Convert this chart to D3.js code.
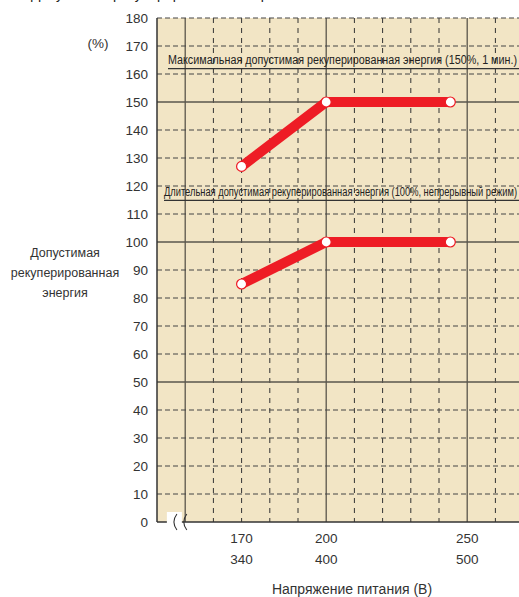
<!DOCTYPE html>
<html lang="ru">
<head>
<meta charset="utf-8">
<title>Допустимая рекуперированная энергия</title>
<script src="https://cdn.jsdelivr.net/npm/d3@7"></script>
<style>
  body { margin: 0; background: #fff; }
  svg { display: block; font-family: "Liberation Sans", Arial, sans-serif; }
  .tick-label { font-size: 13.5px; fill: #333; }
  .note { font-family: "Liberation Sans Narrow", "Liberation Sans", sans-serif; font-size: 12.5px; fill: #222; }
</style>
</head>
<body>
<svg></svg>
<script>
// data
var voltage200 = [170, 200, 244];
var maxEnergy = [127, 150, 150];     // макс. (150%, 1 мин.)
var contEnergy = [85, 100, 100];     // длительная (100%)
var xTicks = [170, 200, 250];
var xTicks400 = ["340", "400", "500"];
var yTicks = d3.range(0, 181, 10);
var noteMax = "Максимальная допустимая рекуперированная энергия (150%, 1 мин.)";
var noteCont = "Длительная допустимая рекуперированная энергия (100%, непрерывный режим)";

var width = 519, height = 597;
var svg = d3.select("svg").attr("width", width).attr("height", height);

var x = d3.scaleLinear().domain([140, 270]).range([157, 523.6]);
var y = d3.scaleLinear().domain([0, 180]).range([522, 18]);

// обрезанный заголовок сверху
svg.append("text")
  .attr("x", 160).attr("y", -1)
  .attr("text-anchor", "middle")
  .style("font-size", "14px").style("fill", "#222")
  .text("Допустимая рекуперированная энергия");

// фон графика
svg.append("rect")
  .attr("x", x(140)).attr("y", y(180))
  .attr("width", x(270) - x(140)).attr("height", y(0) - y(180))
  .attr("fill", "#f2e5c5");

var grid = svg.append("g");
// вертикальная сетка
grid.selectAll(".vg")
  .data(d3.range(150, 270, 10))
  .enter().append("line")
  .attr("x1", function(d){ return x(d); })
  .attr("x2", function(d){ return x(d); })
  .attr("y1", y(180)).attr("y2", y(0))
  .attr("stroke", function(d){ return d % 50 == 0 ? "#5a564c" : "#333"; })
  .attr("stroke-width", function(d){ return d % 50 == 0 ? 1.3 : 1; })
  .attr("stroke-dasharray", function(d){ return d % 50 == 0 ? null : "5,5"; });

// горизонтальная сетка
grid.selectAll(".hg")
  .data(yTicks.filter(function(d){ return d > 0; }))
  .enter().append("line")
  .attr("x1", x(140)).attr("x2", x(270))
  .attr("y1", function(d){ return y(d); })
  .attr("y2", function(d){ return y(d); })
  .attr("stroke", function(d){ return d % 50 == 0 && d < 180 ? "#5a564c" : "#444"; })
  .attr("stroke-width", function(d){ return d % 50 == 0 && d < 180 ? 1.3 : 1; })
  .attr("stroke-dasharray", function(d){ return d % 50 == 0 && d < 180 ? null : "5,3"; });

// оси
svg.append("line")
  .attr("x1", x(140)).attr("x2", x(140))
  .attr("y1", y(180)).attr("y2", y(0))
  .attr("stroke", "#333").attr("stroke-width", 1.5);
svg.append("line")
  .attr("x1", x(140)).attr("x2", x(270))
  .attr("y1", y(0)).attr("y2", y(0))
  .attr("stroke", "#333").attr("stroke-width", 1.5);

// разрыв оси "(("
var br = svg.append("g");
br.append("rect")
  .attr("x", x(143.5)).attr("y", y(0) - 10)
  .attr("width", 15).attr("height", 16)
  .attr("fill", "#fff");
[146, 149.5].forEach(function(v){
  br.append("path")
    .attr("d", "M" + (x(v) + 3) + "," + (y(0) - 8) + " Q" + (x(v) - 3) + "," + y(0) + " " + (x(v) + 3) + "," + (y(0) + 8))
    .attr("fill", "none").attr("stroke", "#333").attr("stroke-width", 1.1);
});

// подписи
function note(txt, val, tx, len) {
  svg.append("text").attr("class", "note")
    .attr("x", tx).attr("y", y(val))
    .attr("textLength", len).attr("lengthAdjust", "spacingAndGlyphs")
    .text(txt);
  svg.append("line")
    .attr("x1", tx).attr("x2", width)
    .attr("y1", y(val) + 4.5).attr("y2", y(val) + 4.5)
    .attr("stroke", "#333").attr("stroke-width", 1.2);
}
note(noteMax, 163.5, 168, 349);
note(noteCont, 116.5, 164, 353);

// линии данных
var line = d3.line()
  .x(function(d){ return x(d[0]); })
  .y(function(d){ return y(d[1]); });

[maxEnergy, contEnergy].forEach(function(series){
  var pts = voltage200.map(function(v, i){ return [v, series[i]]; });
  svg.append("path")
    .datum(pts)
    .attr("d", line)
    .attr("fill", "none")
    .attr("stroke", "#ee1c25")
    .attr("stroke-width", 10)
    .attr("stroke-linecap", "round")
    .attr("stroke-linejoin", "round");
  svg.selectAll(null)
    .data(pts)
    .enter().append("circle")
    .attr("cx", function(d){ return x(d[0]); })
    .attr("cy", function(d){ return y(d[1]); })
    .attr("r", 5)
    .attr("fill", "#fff")
    .attr("stroke", "#ee1c25")
    .attr("stroke-width", 1.2);
});

// подписи оси Y
svg.selectAll(".ylab")
  .data(yTicks)
  .enter().append("text")
  .attr("class", "tick-label")
  .attr("x", 148).attr("y", function(d){ return y(d); })
  .attr("dy", "0.35em")
  .attr("text-anchor", "end")
  .text(function(d){ return d; });

svg.append("text").attr("class", "tick-label")
  .attr("x", 98).attr("y", y(171)).attr("dy", "0.35em")
  .attr("text-anchor", "middle")
  .text("(%)");

// подписи оси X, два ряда (класс 200 В / 400 В)
xTicks.forEach(function(d, i){
  svg.append("text").attr("class", "tick-label")
    .attr("x", x(d)).attr("y", 543)
    .attr("text-anchor", "middle").text(d);
  svg.append("text").attr("class", "tick-label")
    .attr("x", x(d)).attr("y", 564)
    .attr("text-anchor", "middle").text(xTicks400[i]);
});

svg.append("text")
  .attr("x", 352).attr("y", 594)
  .attr("text-anchor", "middle")
  .style("font-size", "14px").style("fill", "#333")
  .text("Напряжение питания (В)");

// заголовок оси Y
var yt = svg.append("text")
  .attr("text-anchor", "middle")
  .style("font-size", "12.5px").style("fill", "#333");
["Допустимая", "рекуперированная", "энергия"].forEach(function(s, i){
  yt.append("tspan").attr("x", 65).attr("y", 257 + i * 20).text(s);
});
</script>
</body>
</html>
